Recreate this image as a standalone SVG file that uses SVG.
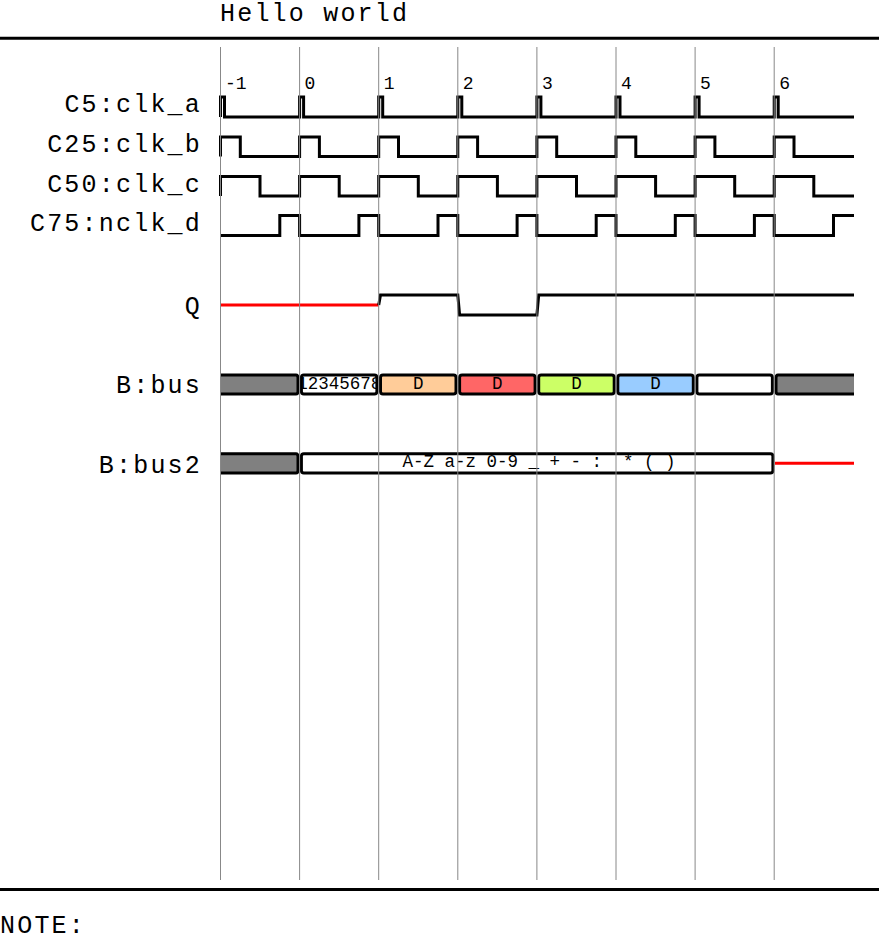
<svg xmlns="http://www.w3.org/2000/svg" width="879" height="941" viewBox="0 0 879 941">
<style>
.big{font-family:"Liberation Mono","Courier New",monospace;font-size:25px;letter-spacing:2.2px;fill:#000}
.lbl{font-family:"Liberation Mono","Courier New",monospace;font-size:25px;letter-spacing:2.2px;fill:#000;text-anchor:end}
.sm{font-family:"Liberation Mono","Courier New",monospace;font-size:18px;fill:#000}
.bt{font-family:"Liberation Mono","Courier New",monospace;font-size:17.5px;fill:#000;text-anchor:middle;white-space:pre}
.w{fill:none;stroke:#000;stroke-width:3;stroke-linejoin:miter;stroke-linecap:butt}
.x{fill:none;stroke:#f00;stroke-width:3}
.seg{stroke:#000;stroke-width:3}
.grid{stroke:#888;stroke-width:1}
.rule{stroke:#000;stroke-width:3}
</style>
<defs>
<clipPath id="c1"><rect x="301.4" y="375" width="75.5" height="19"/></clipPath>
</defs>
<rect x="0" y="0" width="879" height="941" fill="#fff"/>
<text class="big" x="220" y="21">Hello world</text>
<line class="rule" x1="0" y1="38.3" x2="879" y2="38.3"/>
<line class="rule" x1="0" y1="889.5" x2="879" y2="889.5"/>
<text class="big" x="0" y="933">NOTE:</text>
<g id="ticks">
<text class="sm" x="225" y="89">-1</text>
<text class="sm" x="304.6" y="89">0</text>
<text class="sm" x="383.7" y="89">1</text>
<text class="sm" x="462.8" y="89">2</text>
<text class="sm" x="541.9" y="89">3</text>
<text class="sm" x="621" y="89">4</text>
<text class="sm" x="700.1" y="89">5</text>
<text class="sm" x="779.2" y="89">6</text>
</g>
<g id="clk_a">
<text class="lbl" x="202" y="112">C5:clk_a</text>
<path class="w" d="M220.5,117 V97 H224.5 V117 H299.6 V97 H303.6 V117 H378.7 V97 H382.7 V117 H457.8 V97 H461.8 V117 H536.9 V97 H540.9 V117 H616 V97 H620 V117 H695.1 V97 H699.1 V117 H774.2 V97 H778.2 V117 H854"/>
</g>
<g id="clk_b">
<text class="lbl" x="202" y="152">C25:clk_b</text>
<path class="w" d="M220.5,156.5 V137 H240.3 V156.5 H299.6 V137 H319.4 V156.5 H378.7 V137 H398.5 V156.5 H457.8 V137 H477.6 V156.5 H536.9 V137 H556.7 V156.5 H616 V137 H635.8 V156.5 H695.1 V137 H714.9 V156.5 H774.2 V137 H794 V156.5 H854"/>
</g>
<g id="clk_c">
<text class="lbl" x="202" y="191.5">C50:clk_c</text>
<path class="w" d="M220.5,196 V176.5 H260 V196 H299.6 V176.5 H339.2 V196 H378.7 V176.5 H418.3 V196 H457.8 V176.5 H497.4 V196 H536.9 V176.5 H576.5 V196 H616 V176.5 H655.6 V196 H695.1 V176.5 H734.7 V196 H774.2 V176.5 H813.8 V196 H854"/>
</g>
<g id="nclk_d">
<text class="lbl" x="202" y="231">C75:nclk_d</text>
<path class="w" d="M220.5,235.5 H279.8 V215.5 H299.6 V235.5 H358.9 V215.5 H378.7 V235.5 H438 V215.5 H457.8 V235.5 H517.1 V215.5 H536.9 V235.5 H596.2 V215.5 H616 V235.5 H675.3 V215.5 H695.1 V235.5 H754.4 V215.5 H774.2 V235.5 H833.5 V215.5 H854"/>
</g>
<g id="Q">
<text class="lbl" x="202" y="313.5">Q</text>
<path class="x" d="M220.5,305 H378.7"/>
<path class="w" d="M378.7,305 L380.5,295 H457.8 L459.6,315 H536.9 L538.7,295 H854"/>
</g>
<g id="bus">
<text class="lbl" x="202" y="393.3">B:bus</text>
<path fill="#808080" d="M220.5,375 H296 Q298,375 298,378 V391 Q298,394 296,394 H220.5 Z"/>
<path class="w" d="M220.5,375 H296 Q298,375 298,378 V391 Q298,394 296,394 H220.5"/>
<rect class="seg" x="301.4" y="375" width="75.5" height="19" rx="2.5" fill="#fff"/>
<text class="bt" x="339.15" y="388.5" clip-path="url(#c1)">12345678</text>
<rect class="seg" x="380.5" y="375" width="75.5" height="19" rx="2.5" fill="#ffcc99"/>
<text class="bt" x="418.25" y="388.5">D</text>
<rect class="seg" x="459.6" y="375" width="75.5" height="19" rx="2.5" fill="#ff6666"/>
<text class="bt" x="497.35" y="388.5">D</text>
<rect class="seg" x="538.7" y="375" width="75.5" height="19" rx="2.5" fill="#ccff66"/>
<text class="bt" x="576.45" y="388.5">D</text>
<rect class="seg" x="617.8" y="375" width="75.5" height="19" rx="2.5" fill="#99ccff"/>
<text class="bt" x="655.55" y="388.5">D</text>
<rect class="seg" x="696.9" y="375" width="75.5" height="19" rx="2.5" fill="#fff"/>
<path fill="#808080" d="M854,375 H778 Q776,375 776,378 V391 Q776,394 778,394 H854 Z"/>
<path class="w" d="M854,375 H778 Q776,375 776,378 V391 Q776,394 778,394 H854"/>
</g>
<g id="bus2">
<text class="lbl" x="202" y="473">B:bus2</text>
<path fill="#808080" d="M220.5,453.7 H296 Q298,453.7 298,456.7 V470 Q298,473 296,473 H220.5 Z"/>
<path class="w" d="M220.5,453.7 H296 Q298,453.7 298,456.7 V470 Q298,473 296,473 H220.5"/>
<rect class="seg" x="301.4" y="453.7" width="471.5" height="19.3" rx="2.5" fill="#fff"/>
<text class="bt" x="539" y="467.3">A-Z a-z 0-9 _ + - :  * ( )</text>
<path class="x" d="M775,463.3 H854"/>
</g>
<g id="grid">
<line class="grid" x1="220.5" y1="47" x2="220.5" y2="880"/>
<line class="grid" x1="299.6" y1="47" x2="299.6" y2="880"/>
<line class="grid" x1="378.7" y1="47" x2="378.7" y2="880"/>
<line class="grid" x1="457.8" y1="47" x2="457.8" y2="880"/>
<line class="grid" x1="536.9" y1="47" x2="536.9" y2="880"/>
<line class="grid" x1="616" y1="47" x2="616" y2="880"/>
<line class="grid" x1="695.1" y1="47" x2="695.1" y2="880"/>
<line class="grid" x1="774.2" y1="47" x2="774.2" y2="880"/>
</g>
</svg>
